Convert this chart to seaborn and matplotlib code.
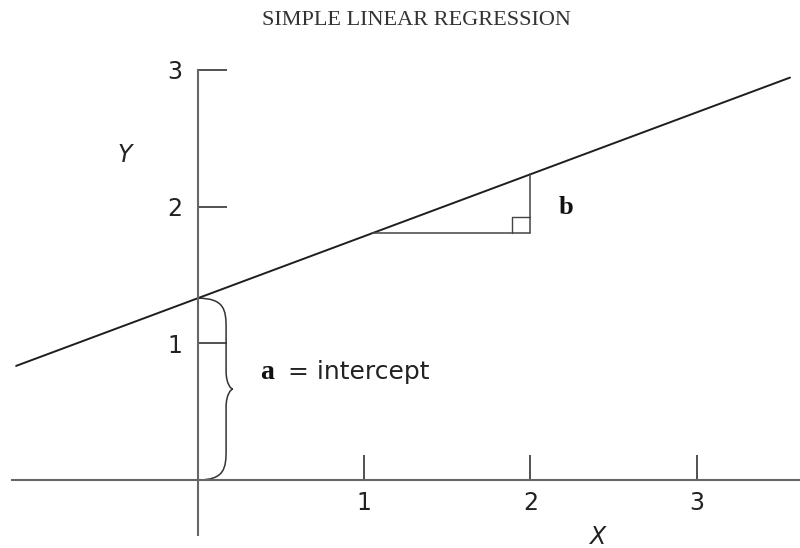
import numpy as np
import matplotlib.pyplot as plt
import seaborn as sns
from matplotlib.path import Path
from matplotlib.patches import PathPatch

# Regression line: Y = a + b * X
intercept = 1.33
slope = 0.453
line_x = np.array([-1.093, 3.562])

# Axis ticks
x_ticks = [1, 2, 3]
y_ticks = [1, 2, 3]
x_tick_labels = ['1', '2', '3']
y_tick_labels = ['1', '2', '3']

# Run of the slope triangle (from the line to x = 2)
run_x = [1.05, 2.0]

sns.set_style("white")
plt.rcParams['font.family'] = ['DejaVu Sans']

fig = plt.figure(figsize=(8, 5.48), dpi=100)
ax = fig.add_axes([0, 0, 1, 1])
ax.set_xlim(-1.19, 3.622)
ax.set_ylim(-0.497, 3.511)
ax.patch.set_alpha(0)

axis_col = '#666666'
ink = '#1e1e1e'

# Axes drawn as crossing spines through the origin
ax.spines['top'].set_visible(False)
ax.spines['right'].set_visible(False)
ax.spines['left'].set_position(('data', 0))
ax.spines['bottom'].set_position(('data', 0))
ax.spines['left'].set_bounds(-0.40, 3)
ax.spines['bottom'].set_bounds(-1.12, 3.622)
for side in ['left', 'bottom']:
    ax.spines[side].set_color(axis_col)
    ax.spines[side].set_linewidth(1.5)

ax.set_xticks(x_ticks)
ax.set_xticklabels(x_tick_labels)
ax.set_yticks(y_ticks)
ax.set_yticklabels(y_tick_labels)
ax.tick_params(axis='y', left=True, direction='in', length=21, width=1.2, color='#333333',
               pad=11, labelsize=17, labelcolor='#222222')
ax.tick_params(axis='x', bottom=True, direction='in', length=18, width=1.2, color='#333333',
               pad=8, labelsize=17, labelcolor='#222222')

# Regression line
line_y = intercept + slope * line_x
sns.lineplot(x=line_x, y=line_y, ax=ax, color=ink, linewidth=1.4)

# Slope triangle with right-angle mark
y0 = intercept + slope * run_x[0]
y1 = intercept + slope * run_x[1]
ax.plot([run_x[0], run_x[1]], [y0, y0], color='#444444', linewidth=1.1)
ax.plot([run_x[1], run_x[1]], [y0, y1], color='#444444', linewidth=1.1)
sq_x, sq_y = 0.11, 0.12
ax.plot([run_x[1] - sq_x, run_x[1] - sq_x, run_x[1]],
        [y0, y0 + sq_y, y0 + sq_y], color='#444444', linewidth=1.0)
ax.text(2.17, 1.99, 'b', fontfamily='Liberation Serif', fontweight='bold',
        fontsize=19, va='center', ha='left', color='#111111')

# Curly brace marking the intercept
def brace(x0, y_bot, y_top, w, tip):
    mid = (y_bot + y_top) / 2
    r = 0.22
    r2 = 0.13
    verts = [
        (x0, y_top),
        (x0 + w * 0.95, y_top), (x0 + w, y_top - r * 0.4), (x0 + w, y_top - r),
        (x0 + w, mid + r2),
        (x0 + w, mid + r2 * 0.3), (x0 + tip * 0.95, mid), (x0 + tip, mid),
        (x0 + tip * 0.95, mid), (x0 + w, mid - r2 * 0.3), (x0 + w, mid - r2),
        (x0 + w, y_bot + r),
        (x0 + w, y_bot + r * 0.4), (x0 + w * 0.95, y_bot), (x0, y_bot),
    ]
    codes = [Path.MOVETO,
             Path.CURVE4, Path.CURVE4, Path.CURVE4,
             Path.LINETO,
             Path.CURVE4, Path.CURVE4, Path.CURVE4,
             Path.CURVE4, Path.CURVE4, Path.CURVE4,
             Path.LINETO,
             Path.CURVE4, Path.CURVE4, Path.CURVE4]
    return PathPatch(Path(verts, codes), fill=False, edgecolor='#333333', linewidth=1.1)

ax.add_patch(brace(0.0, 0.0, intercept, 0.17, 0.21))
ax.text(0.375, 0.79, 'a', fontfamily='Liberation Serif', fontweight='bold',
        fontsize=20, va='center', ha='left', color='#111111')
ax.text(0.54, 0.79, '= intercept', fontsize=18, va='center', ha='left', color='#222222')

# Axis labels
ax.text(-0.437, 2.38, 'Y', fontsize=17, fontstyle='italic', ha='center', va='center', color='#222222')
ax.text(2.40, -0.417, 'X', fontsize=17, fontstyle='italic', ha='center', va='center', color='#222222')

fig.text(0.521, 0.9635, 'SIMPLE LINEAR REGRESSION', fontfamily='Liberation Serif',
         fontsize=16, ha='center', va='center', color='#333333')

fig.savefig('out.png', dpi=100)
